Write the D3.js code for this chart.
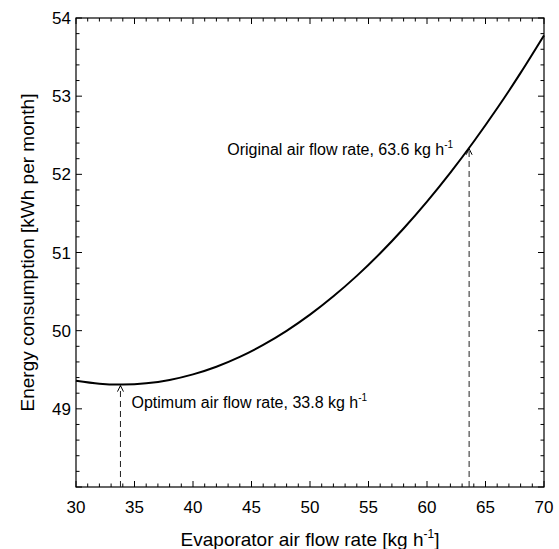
<head></head>
<body style="margin:0;background:#fff"></body>
<script src="https://d3js.org/d3.v7.min.js"></script>
<script>
// air flow rate [kg/h] and monthly energy use [kWh]
var flowRate = [30, 32, 34, 36, 38, 40, 42, 44, 46, 48, 50, 52, 54, 56, 58, 60, 62, 64, 66, 68, 70];
var energy = [49.359, 49.321, 49.310, 49.327, 49.370, 49.441, 49.539, 49.665, 49.818, 49.998, 50.205,
              50.440, 50.701, 50.990, 51.307, 51.651, 52.022, 52.420, 52.845, 53.298, 53.778];

var xTicks = [30, 35, 40, 45, 50, 55, 60, 65, 70];
var yTicks = [49, 50, 51, 52, 53, 54];

// annotated points: flow rate, energy at that rate
var markFlow = [33.8, 63.6];
var markEnergy = [49.31, 52.34];
var markText = ['Optimum air flow rate, 33.8 kg h', 'Original air flow rate, 63.6 kg h'];

var width = 559, height = 549;
var margin = {left: 76, top: 18, right: 15, bottom: 62};
var font = '"Liberation Sans", Arial, Helvetica, sans-serif';

var x = d3.scaleLinear().domain([30, 70]).range([margin.left, width - margin.right]);
var y = d3.scaleLinear().domain([48, 54]).range([height - margin.bottom, margin.top]);

var svg = d3.select('body').append('svg')
    .attr('width', width)
    .attr('height', height)
    .style('font-family', font);

var x0 = x.range()[0], x1 = x.range()[1], y0 = y.range()[0], y1 = y.range()[1];

// minor + major ticks on all four sides, pointing inward
var xMinor = d3.range(30, 71, 1), yMinor = d3.range(48, 54.01, 0.2);
function tickLen(major) { return major ? 6 : 3.5; }

var tg = svg.append('g').attr('stroke', '#000').attr('stroke-width', 1);
xMinor.forEach(function(v) {
    var m = v % 5 === 0, px = x(v);
    tg.append('line').attr('x1', px).attr('x2', px).attr('y1', y0).attr('y2', y0 - tickLen(m));
    tg.append('line').attr('x1', px).attr('x2', px).attr('y1', y1).attr('y2', y1 + tickLen(m));
});
yMinor.forEach(function(v) {
    var m = Math.abs(v - Math.round(v)) < 1e-6, py = y(v);
    tg.append('line').attr('y1', py).attr('y2', py).attr('x1', x0).attr('x2', x0 + tickLen(m));
    tg.append('line').attr('y1', py).attr('y2', py).attr('x1', x1).attr('x2', x1 - tickLen(m));
});

svg.append('rect')
    .attr('x', x0).attr('y', y1)
    .attr('width', x1 - x0).attr('height', y0 - y1)
    .attr('fill', 'none').attr('stroke', '#000').attr('stroke-width', 1.2);

// tick labels
svg.append('g').selectAll('text').data(xTicks).enter().append('text')
    .attr('x', function(d) { return x(d); })
    .attr('y', y0 + 26)
    .attr('text-anchor', 'middle')
    .attr('font-size', 17)
    .text(function(d) { return d; });

svg.append('g').selectAll('text').data(yTicks).enter().append('text')
    .attr('x', x0 - 5)
    .attr('y', function(d) { return y(d); })
    .attr('dy', '0.36em')
    .attr('text-anchor', 'end')
    .attr('font-size', 17)
    .text(function(d) { return d; });

// axis titles
var xt = svg.append('text')
    .attr('x', (x0 + x1) / 2)
    .attr('y', height - 3.5)
    .attr('text-anchor', 'middle')
    .attr('font-size', 19);
xt.append('tspan').text('Evaporator air flow rate [kg h');
xt.append('tspan').attr('dy', -8).attr('font-size', 12).text('-1');
xt.append('tspan').attr('dy', 8).text(']');

svg.append('text')
    .attr('transform', 'translate(34,' + ((y0 + y1) / 2) + ') rotate(-90)')
    .attr('text-anchor', 'middle')
    .attr('font-size', 19)
    .text('Energy consumption [kWh per month]');

// the curve
var pts = flowRate.map(function(f, i) { return [f, energy[i]]; });
svg.append('path')
    .datum(pts)
    .attr('fill', 'none')
    .attr('stroke', '#000')
    .attr('stroke-width', 2)
    .attr('d', d3.line()
        .x(function(d) { return x(d[0]); })
        .y(function(d) { return y(d[1]); })
        .curve(d3.curveNatural));

// dashed arrows up to the curve
markFlow.forEach(function(f, i) {
    var px = x(f), py = y(markEnergy[i]);
    svg.append('line')
        .attr('x1', px).attr('x2', px)
        .attr('y1', y0).attr('y2', py + 1)
        .attr('stroke', '#222').attr('stroke-width', 1)
        .attr('stroke-dasharray', '6,4');
    svg.append('path')
        .attr('d', 'M' + (px - 3) + ',' + (py + 7) + 'L' + px + ',' + (py + 1) + 'L' + (px + 3) + ',' + (py + 7))
        .attr('fill', 'none').attr('stroke', '#000').attr('stroke-width', 1);
});

// annotation labels
var labelPos = [[x(markFlow[0]) + 11, y(markEnergy[0]) + 23, 'start'],
                [x(markFlow[1]) - 16, y(markEnergy[1]) + 7, 'end']];
markText.forEach(function(t, i) {
    var lt = svg.append('text')
        .attr('x', labelPos[i][0])
        .attr('y', labelPos[i][1])
        .attr('text-anchor', labelPos[i][2])
        .attr('font-size', 16);
    lt.append('tspan').text(t);
    lt.append('tspan').attr('dy', -7).attr('font-size', 10).text('-1');
});
</script>
